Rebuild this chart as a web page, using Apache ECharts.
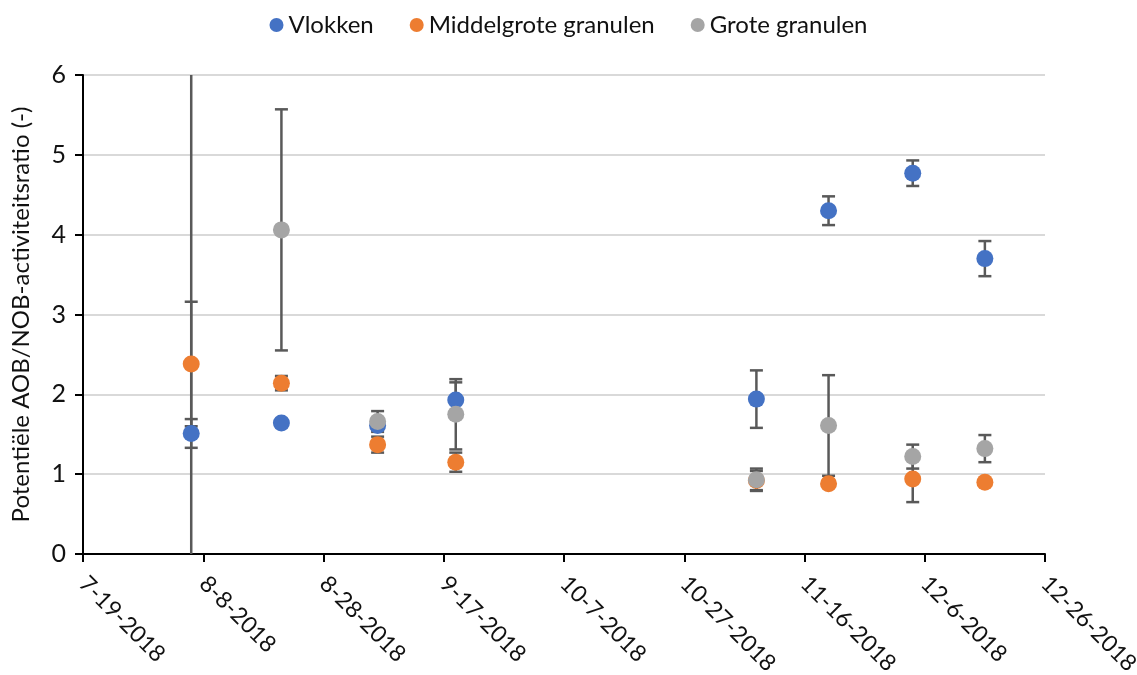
<!DOCTYPE html>
<html>
<head>
<meta charset="utf-8">
<script src="https://cdn.jsdelivr.net/npm/echarts@6/dist/echarts.min.js"></script>
<style>
  html, body { margin: 0; padding: 0; background: #fff; }
  #chart { width: 1137px; height: 675px; }
</style>
</head>
<body>
<div id="chart"></div>
<script>
// Sampling dates
const sampleDates = ['2018-08-06', '2018-08-21', '2018-09-06', '2018-09-19',
                     '2018-11-08', '2018-11-20', '2018-12-04', '2018-12-16'];

// Mean ratio and standard deviation per sludge fraction
const vlokken        = [1.51, 1.64, 1.61, 1.93, 1.94, 4.30, 4.77, 3.70];
const vlokkenSd      = [0.18, 0.05, 0.05, 0.22, 0.36, 0.18, 0.16, 0.22];
const middelgroot    = [2.38, 2.14, 1.37, 1.15, 0.92, 0.88, 0.94, 0.90];
const middelgrootSd  = [0.78, 0.09, 0.10, 0.12, 0.12, 0.03, 0.29, 0.03];
const groot          = [6.90, 4.06, 1.66, 1.75, 0.93, 1.61, 1.22, 1.32];
const grootSd        = [7.00, 1.51, 0.13, 0.44, 0.14, 0.63, 0.15, 0.17];

const seriesNames = ['Vlokken', 'Middelgrote granulen', 'Grote granulen'];
const seriesColors = ['#4472C4', '#ED7D31', '#A5A5A5'];

// Date axis: days counted from the first tick, ticks every 20 days
const axisStart = Date.UTC(2018, 6, 19);
const DAY = 86400000;
const xMin = 0, xMax = 160, xStep = 20;
const yMin = 0, yMax = 6, yStep = 1;

function dayOffset(iso) {
  const [y, m, d] = iso.split('-').map(Number);
  return Math.round((Date.UTC(y, m - 1, d) - axisStart) / DAY);
}
function dateLabel(v) {
  const d = new Date(axisStart + v * DAY);
  return (d.getUTCMonth() + 1) + '-' + d.getUTCDate() + '-' + d.getUTCFullYear();
}

const xs = sampleDates.map(dayOffset);
const means = [vlokken, middelgroot, groot];
const sds = [vlokkenSd, middelgrootSd, grootSd];

const FONT = 'Lato';
const TEXT = '#111';

const series = [];
means.forEach((vals, i) => {
  // Error bars sit under every marker
  series.push({
    type: 'custom',
    name: seriesNames[i] + ' sd',
    z: 1,
    clip: true,
    silent: true,
    data: vals.map((v, j) => [xs[j], v - sds[i][j], v + sds[i][j]]),
    renderItem: function (params, api) {
      const lo = api.coord([api.value(0), api.value(1)]);
      const hi = api.coord([api.value(0), api.value(2)]);
      const half = 6.5;
      const style = { stroke: '#595959', lineWidth: 2.5 };
      return {
        type: 'group',
        children: [
          { type: 'line', shape: { x1: lo[0], y1: lo[1], x2: hi[0], y2: hi[1] }, style: style },
          { type: 'line', shape: { x1: lo[0] - half, y1: lo[1], x2: lo[0] + half, y2: lo[1] }, style: style },
          { type: 'line', shape: { x1: hi[0] - half, y1: hi[1], x2: hi[0] + half, y2: hi[1] }, style: style }
        ]
      };
    }
  });
});
means.forEach((vals, i) => {
  series.push({
    type: 'scatter',
    name: seriesNames[i],
    z: 3,
    clip: true,
    symbol: 'circle',
    symbolSize: 17,
    itemStyle: { color: seriesColors[i], opacity: 1 },
    data: vals.map((v, j) => [xs[j], v])
  });
});

const chart = echarts.init(document.getElementById('chart'));
chart.setOption({
  animation: false,
  color: seriesColors,
  legend: {
    data: seriesNames,
    top: 8,
    left: 'center',
    icon: 'circle',
    itemWidth: 14,
    itemHeight: 14,
    itemGap: 36,
    textStyle: { fontFamily: FONT, fontSize: 24, color: TEXT }
  },
  grid: { left: 83, right: 92, top: 75, bottom: 121, containLabel: false, outerBoundsMode: 'none' },
  xAxis: {
    type: 'value',
    min: xMin, max: xMax, interval: xStep,
    axisLine: { show: true, lineStyle: { color: '#000', width: 2 } },
    axisTick: { show: true, length: 8, lineStyle: { color: '#000', width: 2 } },
    splitLine: { show: false },
    axisLabel: {
      rotate: -45,
      margin: 26,
      fontFamily: FONT, fontSize: 23, color: TEXT,
      formatter: dateLabel
    }
  },
  yAxis: {
    type: 'value',
    min: yMin, max: yMax, interval: yStep,
    name: 'Potentiële AOB/NOB-activiteitsratio (-)',
    nameLocation: 'middle',
    nameGap: 50,
    nameTextStyle: { fontFamily: FONT, fontSize: 24, color: TEXT },
    axisLine: { show: true, lineStyle: { color: '#000', width: 2 } },
    axisTick: { show: true, length: 8, lineStyle: { color: '#000', width: 2 } },
    splitLine: { show: true, lineStyle: { color: '#d9d9d9', width: 2 } },
    axisLabel: { margin: 17, fontFamily: FONT, fontSize: 25, color: TEXT }
  },
  series: series
});
</script>
</body>
</html>
